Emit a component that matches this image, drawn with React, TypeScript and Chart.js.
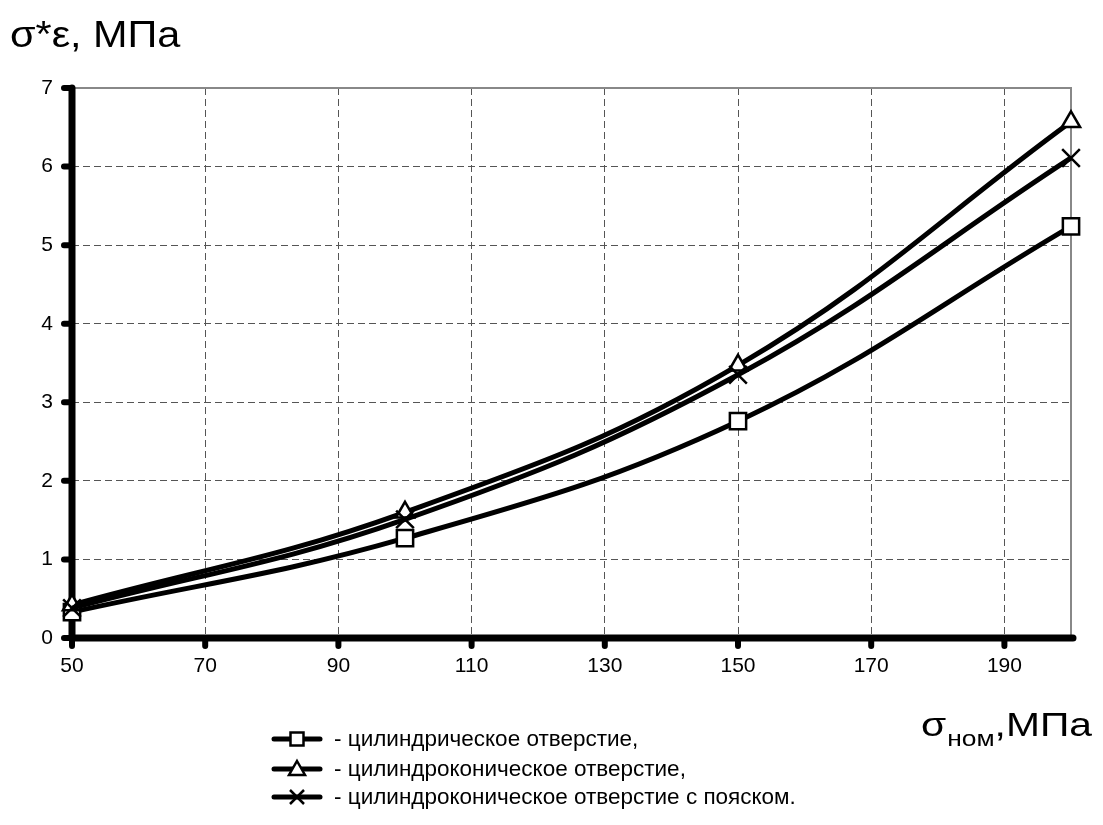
import React, { useEffect, useRef } from "react";
import { Chart, registerables } from "chart.js";

Chart.register(...registerables);

// Nominal stress, MPa
const xValues = [50, 100, 150, 200];
// σ*ε, MPa for each hole type
const cylindrical = [0.33, 1.27, 2.76, 5.24];
const cylConical = [0.42, 1.6, 3.47, 6.57];
const cylConicalBelt = [0.38, 1.51, 3.35, 6.11];

const xTicks = [50, 70, 90, 110, 130, 150, 170, 190];
const yTicks = [0, 1, 2, 3, 4, 5, 6, 7];

const seriesNames = [
  "- цилиндрическое отверстие,",
  "- цилиндроконическое отверстие,",
  "- цилиндроконическое отверстие с пояском.",
];
const yTitle = "σ*ε, МПа";
const xTitleMain = "σ";
const xTitleSub = "ном";
const xTitleTail = ",МПа";

const FONT = "'Liberation Sans', Arial, sans-serif";

const toPoints = (ys: number[]) => xValues.map((x, i) => ({ x, y: ys[i] }));

function drawMarker(ctx: CanvasRenderingContext2D, kind: string, x: number, y: number) {
  ctx.save();
  ctx.lineWidth = 2.5;
  ctx.strokeStyle = "#000";
  ctx.fillStyle = "#fff";
  ctx.lineCap = "butt";
  ctx.beginPath();
  if (kind === "rect") {
    ctx.rect(x - 6.5, y - 6.5, 13, 13);
    ctx.fill();
    ctx.stroke();
  } else if (kind === "triangle") {
    ctx.moveTo(x, y - 8);
    ctx.lineTo(x + 8, y + 6);
    ctx.lineTo(x - 8, y + 6);
    ctx.closePath();
    ctx.fill();
    ctx.stroke();
  } else {
    ctx.moveTo(x - 7, y - 7);
    ctx.lineTo(x + 7, y + 7);
    ctx.moveTo(x + 7, y - 7);
    ctx.lineTo(x - 7, y + 7);
    ctx.stroke();
  }
  ctx.restore();
}

// text drawn with a horizontal stretch factor
function wideText(ctx: CanvasRenderingContext2D, text: string, x: number, y: number, sx: number) {
  ctx.save();
  ctx.translate(x, y);
  ctx.scale(sx, 1);
  ctx.fillText(text, 0, 0);
  const w = ctx.measureText(text).width * sx;
  ctx.restore();
  return w;
}

const framePlugin = {
  id: "frame",
  beforeDatasetsDraw(chart: any) {
    const { ctx, chartArea: a, scales } = chart;
    ctx.save();
    // light frame on the top and right
    ctx.strokeStyle = "#888";
    ctx.lineWidth = 2;
    ctx.beginPath();
    ctx.moveTo(a.left, a.top);
    ctx.lineTo(a.right, a.top);
    ctx.lineTo(a.right, a.bottom);
    ctx.stroke();
    // heavy axes
    ctx.strokeStyle = "#000";
    ctx.lineCap = "round";
    ctx.lineWidth = 7;
    ctx.beginPath();
    ctx.moveTo(a.left, a.top);
    ctx.lineTo(a.left, a.bottom);
    ctx.moveTo(a.left, a.bottom);
    ctx.lineTo(a.right + 2, a.bottom);
    ctx.stroke();
    // tick marks
    ctx.lineWidth = 6;
    ctx.beginPath();
    for (const v of yTicks) {
      const y = scales.y.getPixelForValue(v);
      ctx.moveTo(a.left - 8, y);
      ctx.lineTo(a.left, y);
    }
    for (const v of xTicks) {
      const x = scales.x.getPixelForValue(v);
      ctx.moveTo(x, a.bottom);
      ctx.lineTo(x, a.bottom + 8);
    }
    ctx.stroke();
    ctx.restore();
  },
  afterDraw(chart: any) {
    const { ctx } = chart;
    ctx.save();
    ctx.fillStyle = "#000";
    ctx.textBaseline = "alphabetic";
    ctx.textAlign = "left";
    // vertical axis title
    ctx.font = `36px ${FONT}`;
    wideText(ctx, yTitle, 10, 47, 1.15);
    // horizontal axis title with subscript
    ctx.font = `34px ${FONT}`;
    let x = 921;
    x += wideText(ctx, xTitleMain, x, 736, 1.2) + 1;
    ctx.font = `22px ${FONT}`;
    x += wideText(ctx, xTitleSub, x, 746, 1.2);
    ctx.font = `34px ${FONT}`;
    wideText(ctx, xTitleTail, x, 736, 1.2);
    // legend
    const kinds = ["rect", "triangle", "crossRot"];
    const rows = [739, 769, 797];
    ctx.font = `22.5px ${FONT}`;
    ctx.textBaseline = "middle";
    rows.forEach((ry, i) => {
      ctx.strokeStyle = "#000";
      ctx.lineWidth = 5;
      ctx.lineCap = "round";
      ctx.beginPath();
      ctx.moveTo(274, ry);
      ctx.lineTo(320, ry);
      ctx.stroke();
      drawMarker(ctx, kinds[i], 297, ry);
      ctx.fillStyle = "#000";
      ctx.fillText(seriesNames[i], 334, ry + 1);
    });
    ctx.restore();
  },
};

export default function App() {
  const canvasRef = useRef<HTMLCanvasElement>(null);

  useEffect(() => {
    const canvas = canvasRef.current;
    if (!canvas) return;
    const common = {
      borderColor: "#000",
      borderWidth: 5,
      backgroundColor: "#fff",
      pointBackgroundColor: "#fff",
      pointBorderColor: "#000",
      pointBorderWidth: 2.5,
      tension: 0.4,
      clip: false as const,
      fill: false,
    };
    const chart = new Chart(canvas, {
      type: "line",
      data: {
        datasets: [
          { ...common, label: seriesNames[0], data: toPoints(cylindrical), pointStyle: "rect", pointRadius: 11.5, order: 2 },
          { ...common, label: seriesNames[1], data: toPoints(cylConical), pointStyle: "triangle", pointRadius: 10.5, order: 1 },
          { ...common, label: seriesNames[2], data: toPoints(cylConicalBelt), pointStyle: "crossRot", pointRadius: 12.5, order: 0 },
        ],
      },
      options: {
        animation: false,
        responsive: false,
        devicePixelRatio: 1,
        layout: { padding: { top: 88, right: 32, bottom: 147, left: 0 } },
        plugins: { legend: { display: false }, tooltip: { enabled: false } },
        scales: {
          x: {
            type: "linear",
            min: 50,
            max: 200,
            afterBuildTicks: (s: any) => {
              s.ticks = xTicks.map((value) => ({ value }));
            },
            afterFit: (s: any) => {
              s.height = 40;
            },
            border: { display: false, dash: [7, 4] },
            grid: {
              drawTicks: false,
              lineWidth: 1,
              color: (c: any) => (c.tick && c.tick.value === 50 ? "rgba(0,0,0,0)" : "#555"),
            },
            ticks: { color: "#000", font: { family: FONT, size: 21 }, padding: 16, maxRotation: 0 },
          },
          y: {
            type: "linear",
            min: 0,
            max: 7,
            afterBuildTicks: (s: any) => {
              s.ticks = yTicks.map((value) => ({ value }));
            },
            afterFit: (s: any) => {
              s.width = 72;
            },
            border: { display: false, dash: [7, 4] },
            grid: {
              drawTicks: false,
              lineWidth: 1,
              color: (c: any) =>
                c.tick && (c.tick.value === 0 || c.tick.value === 7) ? "rgba(0,0,0,0)" : "#555",
            },
            ticks: { color: "#000", font: { family: FONT, size: 21 }, padding: 19 },
          },
        },
      },
      plugins: [framePlugin],
    });
    return () => chart.destroy();
  }, []);

  return (
    <div style={{ position: "fixed", left: 0, top: 0, width: 1103, height: 825, background: "#fff" }}>
      <canvas ref={canvasRef} width={1103} height={825} style={{ display: "block" }} />
    </div>
  );
}
